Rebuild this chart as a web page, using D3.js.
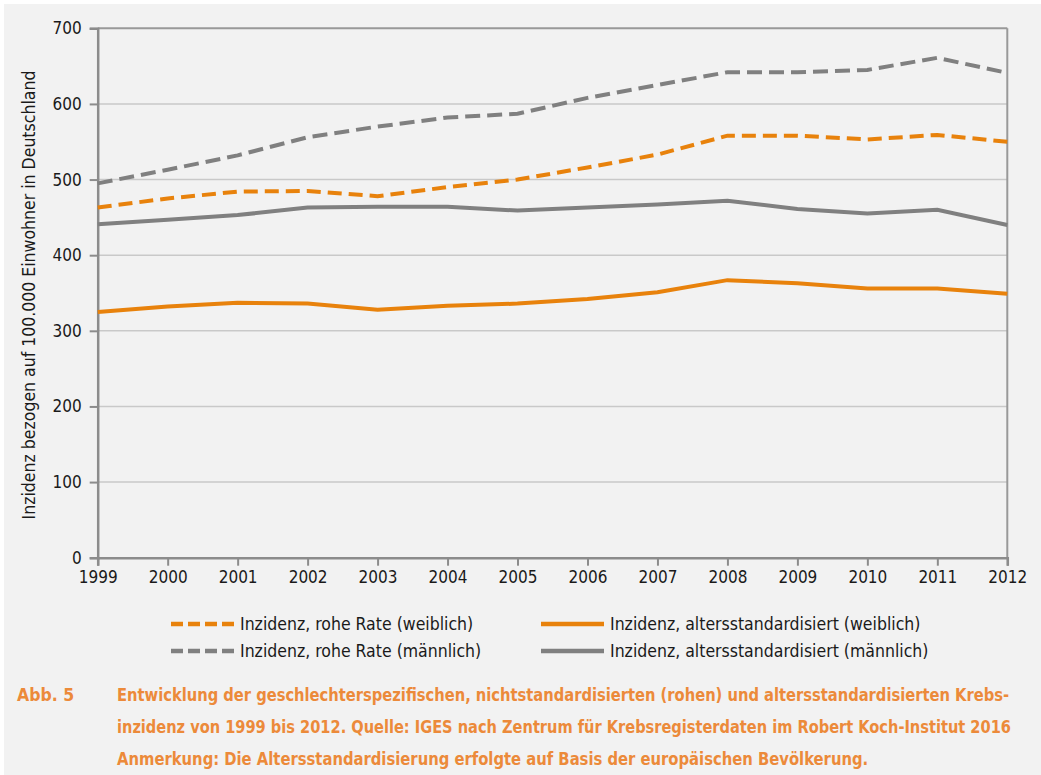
<!DOCTYPE html>
<html>
<head>
<meta charset="utf-8">
<script src="https://cdn.jsdelivr.net/npm/d3@7"></script>
<style>
  html, body { margin: 0; padding: 0; background: #ffffff; }
  svg { display: block; }
  text { font-family: "DejaVu Sans Condensed", "Noto Sans", sans-serif; }
</style>
</head>
<body>
<svg id="chart" width="1041" height="775"></svg>
<script>
// Jahre der Erhebung
const years = [1999, 2000, 2001, 2002, 2003, 2004, 2005, 2006, 2007, 2008, 2009, 2010, 2011, 2012];

// Inzidenz je 100.000 Einwohner
const roheRateWeiblich = [463, 475, 484, 485, 478, 490, 500, 516, 533, 558, 558, 553, 559, 550];
const roheRateMaennlich = [495, 513, 532, 556, 570, 582, 587, 608, 625, 642, 642, 645, 661, 641];
const altersstdWeiblich = [325, 332, 337, 336, 328, 333, 336, 342, 351, 367, 363, 356, 356, 349];
const altersstdMaennlich = [441, 447, 453, 463, 464, 464, 459, 463, 467, 472, 461, 455, 460, 440];

const yTicks = [0, 100, 200, 300, 400, 500, 600, 700];

const legendLabels = [
  "Inzidenz, rohe Rate (weiblich)",
  "Inzidenz, altersstandardisiert (weiblich)",
  "Inzidenz, rohe Rate (männlich)",
  "Inzidenz, altersstandardisiert (männlich)"
];

const captionLabel = "Abb. 5";
const captionLines = [
  "Entwicklung der geschlechterspezifischen, nichtstandardisierten (rohen) und altersstandardisierten Krebs-",
  "inzidenz von 1999 bis 2012. Quelle: IGES nach Zentrum für Krebsregisterdaten im Robert Koch-Institut 2016",
  "Anmerkung: Die Altersstandardisierung erfolgte auf Basis der europäischen Bevölkerung."
];
// Satzbreite der Zeilen
const captionWidths = [893, 895, 752];

const ORANGE = "#e8820c";
const GREY = "#808080";
const AXIS = "#8c8c8c";
const GRID = "#c9c9c9";

const svg = d3.select("#chart");

// Hintergrundfläche
svg.append("rect").attr("x", 4).attr("y", 4).attr("width", 1037).attr("height", 771).attr("fill", "#f2f2f2");

const plot = { left: 97.7, right: 1007.3, top: 28.3, bottom: 557.7 };

const x = d3.scaleLinear().domain([1999, 2012]).range([plot.left, plot.right]);
const y = d3.scaleLinear().domain([0, 700]).range([plot.bottom, plot.top]);

// Gitterlinien
svg.append("g")
  .selectAll("line")
  .data(yTicks.filter(d => d > 0 && d < 700))
  .join("line")
  .attr("x1", plot.left).attr("x2", plot.right)
  .attr("y1", d => y(d)).attr("y2", d => y(d))
  .attr("stroke", GRID).attr("stroke-width", 1.5);

// Rahmen oben und rechts
svg.append("line").attr("x1", plot.left).attr("x2", plot.right).attr("y1", y(700)).attr("y2", y(700))
  .attr("stroke", "#999").attr("stroke-width", 2);
svg.append("line").attr("x1", plot.right).attr("x2", plot.right).attr("y1", y(700)).attr("y2", y(0))
  .attr("stroke", "#999").attr("stroke-width", 2);

// Y-Achse
const yAxis = svg.append("g")
  .attr("transform", `translate(${plot.left},0)`)
  .call(d3.axisLeft(y).tickValues(yTicks).tickSize(8).tickPadding(8).tickFormat(d3.format("d")));
yAxis.select(".domain").attr("stroke", AXIS).attr("stroke-width", 2.5);
yAxis.selectAll(".tick line").attr("stroke", AXIS).attr("stroke-width", 2);
yAxis.selectAll(".tick text").attr("font-size", 17).attr("fill", "#1a1a1a")
  .style("font-family", '"DejaVu Sans Condensed", sans-serif');

// X-Achse
const xAxis = svg.append("g")
  .attr("transform", `translate(0,${plot.bottom})`)
  .call(d3.axisBottom(x).tickValues(years).tickSize(8).tickPadding(5).tickFormat(d3.format("d")));
xAxis.select(".domain").attr("stroke", AXIS).attr("stroke-width", 2.5);
xAxis.selectAll(".tick line").attr("stroke", AXIS).attr("stroke-width", 2);
xAxis.selectAll(".tick text").attr("font-size", 17).attr("fill", "#1a1a1a")
  .style("font-family", '"DejaVu Sans Condensed", sans-serif');

// Achsentitel
svg.append("text")
  .attr("transform", `translate(35,${(plot.top + plot.bottom) / 2 + 2}) rotate(-90)`)
  .attr("text-anchor", "middle")
  .attr("font-size", 17.5).attr("fill", "#1a1a1a")
  .text("Inzidenz bezogen auf 100.000 Einwohner in Deutschland");

// Linien
const line = d3.line().x((d, i) => x(years[i])).y(d => y(d));
const series = [
  { values: altersstdWeiblich, color: ORANGE, dash: null },
  { values: altersstdMaennlich, color: GREY, dash: null },
  { values: roheRateWeiblich, color: ORANGE, dash: "14,7" },
  { values: roheRateMaennlich, color: GREY, dash: "15,7" }
];
svg.append("g").selectAll("path")
  .data(series)
  .join("path")
  .attr("d", d => line(d.values))
  .attr("fill", "none")
  .attr("stroke", d => d.color)
  .attr("stroke-width", 4)
  .attr("stroke-dasharray", d => d.dash);

// Legende
const legendItems = [
  { label: legendLabels[0], color: ORANGE, dash: "12,5", col: 0, row: 0 },
  { label: legendLabels[1], color: ORANGE, dash: null, col: 1, row: 0 },
  { label: legendLabels[2], color: GREY, dash: "12,5", col: 0, row: 1 },
  { label: legendLabels[3], color: GREY, dash: null, col: 1, row: 1 }
];
const colX = [171, 541];
const rowY = [624, 651];
const lg = svg.append("g").selectAll("g").data(legendItems).join("g")
  .attr("transform", d => `translate(${colX[d.col]},${rowY[d.row]})`);
lg.append("line")
  .attr("x1", 0).attr("x2", 63).attr("y1", 0).attr("y2", 0)
  .attr("stroke", d => d.color).attr("stroke-width", 4.5)
  .attr("stroke-dasharray", d => d.dash);
lg.append("text")
  .attr("x", 69).attr("y", 6)
  .attr("font-size", 17.5).attr("fill", "#1a1a1a")
  .text(d => d.label);

// Bildunterschrift
const CAP = "#ec8a3a";
svg.append("text")
  .attr("x", 17).attr("y", 701)
  .attr("font-size", 17.5).attr("font-weight", "bold").attr("fill", CAP)
  .text(captionLabel);
// Zeilen horizontal auf Satzbreite gestaucht
svg.append("g").selectAll("text").data(captionLines).join("text")
  .attr("x", 0).attr("y", 0)
  .attr("font-size", 17.5).attr("font-weight", "bold").attr("fill", CAP)
  .text(d => d)
  .attr("transform", function (d, i) {
    const w = this.getComputedTextLength();
    const sx = Math.min(1, captionWidths[i] / w);
    return `translate(117,${701 + i * 32}) scale(${sx},1)`;
  });
</script>
</body>
</html>
